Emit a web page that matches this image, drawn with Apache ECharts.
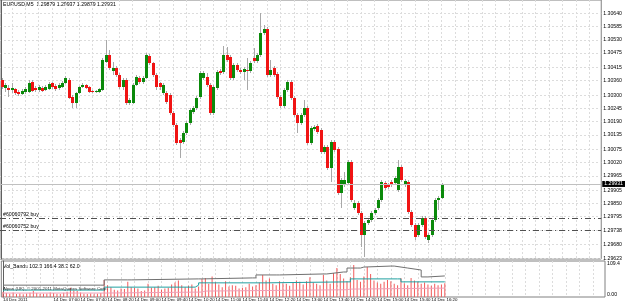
<!DOCTYPE html>
<html><head><meta charset="utf-8">
<script src="https://cdn.jsdelivr.net/npm/echarts@6/dist/echarts.min.js"></script>
<style>html,body{margin:0;padding:0;background:#fff}#c{width:625px;height:303px}</style>
</head><body><div id="c"></div>
<script>
const opens=[1.30363,1.30330,1.30330,1.30322,1.30326,1.30313,1.30305,1.30313,1.30313,1.30355,1.30330,1.30322,1.30330,1.30322,1.30326,1.30351,1.30338,1.30330,1.30334,1.30351,1.30363,1.30293,1.30268,1.30309,1.30334,1.30342,1.30334,1.30317,1.30313,1.30313,1.30322,1.30438,1.30467,1.30400,1.30413,1.30384,1.30334,1.30363,1.30268,1.30268,1.30342,1.30371,1.30355,1.30371,1.30463,1.30434,1.30384,1.30351,1.30309,1.30309,1.30301,1.30226,1.30176,1.30114,1.30106,1.30143,1.30185,1.30230,1.30247,1.30293,1.30371,1.30375,1.30342,1.30226,1.30330,1.30400,1.30396,1.30467,1.30458,1.30371,1.30425,1.30405,1.30396,1.30405,1.30400,1.30454,1.30442,1.30467,1.30558,1.30575,1.30384,1.30413,1.30388,1.30293,1.30255,1.30322,1.30355,1.30288,1.30218,1.30185,1.30218,1.30247,1.30102,1.30160,1.30172,1.30156,1.30064,1.30085,1.29998,1.30106,1.30077,1.29894,1.29927,1.29936,1.30023,1.29832,1.29853,1.29811,1.29720,1.29770,1.29782,1.29811,1.29832,1.29865,1.29936,1.29927,1.29940,1.29936,1.29907,1.30002,1.29927,1.29940,1.29815,1.29761,1.29720,1.29761,1.29790,1.29699,1.29720,1.29782,1.29865,1.29873];
const closes=[1.30334,1.30342,1.30322,1.30330,1.30309,1.30305,1.30317,1.30326,1.30351,1.30317,1.30322,1.30334,1.30317,1.30334,1.30346,1.30334,1.30326,1.30342,1.30351,1.30371,1.30288,1.30268,1.30309,1.30334,1.30342,1.30330,1.30313,1.30313,1.30317,1.30326,1.30446,1.30467,1.30413,1.30413,1.30384,1.30334,1.30363,1.30268,1.30280,1.30342,1.30375,1.30355,1.30371,1.30467,1.30434,1.30384,1.30334,1.30334,1.30342,1.30272,1.30226,1.30176,1.30102,1.30102,1.30143,1.30185,1.30239,1.30247,1.30288,1.30392,1.30392,1.30342,1.30226,1.30334,1.30396,1.30392,1.30467,1.30446,1.30371,1.30425,1.30405,1.30396,1.30409,1.30400,1.30434,1.30442,1.30467,1.30558,1.30575,1.30384,1.30405,1.30384,1.30293,1.30255,1.30322,1.30355,1.30288,1.30218,1.30185,1.30218,1.30247,1.30102,1.30164,1.30168,1.30147,1.30064,1.30085,1.29998,1.30106,1.30073,1.29894,1.29948,1.29948,1.30023,1.29865,1.29853,1.29811,1.29720,1.29770,1.29782,1.29811,1.29824,1.29865,1.29940,1.29915,1.29919,1.29927,1.29956,1.30002,1.29948,1.29944,1.29815,1.29761,1.29712,1.29761,1.29790,1.29712,1.29720,1.29782,1.29865,1.29873,1.29931];
const lows=[1.30326,1.30313,1.30293,1.30309,1.30301,1.30297,1.30301,1.30305,1.30309,1.30313,1.30313,1.30313,1.30313,1.30317,1.30322,1.30326,1.30317,1.30322,1.30330,1.30346,1.30284,1.30247,1.30247,1.30305,1.30330,1.30326,1.30309,1.30309,1.30309,1.30309,1.30317,1.30434,1.30405,1.30384,1.30375,1.30326,1.30322,1.30259,1.30259,1.30263,1.30338,1.30346,1.30346,1.30367,1.30425,1.30375,1.30322,1.30322,1.30301,1.30263,1.30218,1.30168,1.30093,1.30039,1.30097,1.30135,1.30176,1.30222,1.30239,1.30284,1.30363,1.30334,1.30218,1.30218,1.30322,1.30384,1.30388,1.30438,1.30363,1.30363,1.30396,1.30388,1.30363,1.30322,1.30392,1.30434,1.30434,1.30458,1.30550,1.30375,1.30375,1.30375,1.30284,1.30247,1.30247,1.30313,1.30280,1.30209,1.30143,1.30176,1.30209,1.30093,1.30093,1.30151,1.30139,1.30056,1.30056,1.29990,1.29940,1.30064,1.29886,1.29832,1.29919,1.29927,1.29857,1.29824,1.29803,1.29670,1.29628,1.29761,1.29774,1.29803,1.29824,1.29857,1.29907,1.29911,1.29919,1.29927,1.29898,1.29940,1.29919,1.29807,1.29753,1.29699,1.29712,1.29753,1.29703,1.29687,1.29712,1.29774,1.29824,1.29869];
const highs=[1.30371,1.30351,1.30342,1.30351,1.30330,1.30322,1.30326,1.30334,1.30363,1.30363,1.30338,1.30342,1.30338,1.30342,1.30355,1.30355,1.30346,1.30351,1.30359,1.30380,1.30371,1.30301,1.30313,1.30338,1.30351,1.30346,1.30338,1.30322,1.30322,1.30330,1.30454,1.30529,1.30488,1.30438,1.30421,1.30392,1.30371,1.30371,1.30288,1.30351,1.30384,1.30380,1.30380,1.30475,1.30471,1.30438,1.30392,1.30355,1.30351,1.30317,1.30309,1.30234,1.30185,1.30122,1.30151,1.30193,1.30247,1.30255,1.30297,1.30400,1.30400,1.30392,1.30351,1.30342,1.30405,1.30409,1.30504,1.30500,1.30467,1.30434,1.30434,1.30413,1.30417,1.30454,1.30442,1.30496,1.30475,1.30641,1.30591,1.30583,1.30446,1.30421,1.30396,1.30301,1.30330,1.30363,1.30363,1.30297,1.30226,1.30226,1.30280,1.30255,1.30172,1.30176,1.30180,1.30164,1.30093,1.30093,1.30114,1.30114,1.30085,1.29956,1.29981,1.30031,1.30031,1.29865,1.29861,1.29819,1.29778,1.29790,1.29819,1.29832,1.29873,1.29948,1.29944,1.29936,1.29948,1.29965,1.30031,1.30010,1.29952,1.29948,1.29824,1.29770,1.29770,1.29799,1.29799,1.29728,1.29790,1.29873,1.29882,1.29936];
const volumes=[15,12,10,14,9,11,8,10,13,18,12,9,10,11,14,12,10,9,13,16,28,20,18,14,10,9,11,8,10,12,52,36,30,22,20,26,24,46,30,28,26,18,20,40,28,30,34,22,26,28,38,44,50,36,30,34,38,26,32,55,58,40,62,45,38,30,48,32,36,34,26,28,30,40,32,36,44,67,50,56,40,36,48,42,40,34,44,50,46,38,48,60,44,40,36,67,50,40,73,88,70,56,48,60,97,52,46,62,91,70,50,44,40,46,52,48,40,36,58,42,36,58,50,46,40,44,38,34,40,36,38,42];
const volUpper=[[0,36],[29,36],[30,52],[37,52],[38,55],[58,55],[59,58],[74,58],[75,67],[81,67],[82,70],[95,70],[96,76],[101,76],[102,88],[105,88],[106,91],[107,94],[115,94],[116,88],[120,82],[124,61],[126,64],[131,64]];
const volMid=[[0,21],[29,21],[30,30],[57,36],[58,43],[77,43],[78,46],[102,46],[103,55],[117,55],[118,46],[131,46]];
const volLower=[[0,12],[29,12],[30,15],[59,18],[60,22],[102,24],[103,27],[131,27]];
const timeLabels=["14 Dec 2011","14 Dec 06:20","14 Dec 07:00","14 Dec 07:40","14 Dec 08:20","14 Dec 09:00","14 Dec 09:40","14 Dec 10:20","14 Dec 11:00","14 Dec 11:40","14 Dec 12:20","14 Dec 13:00","14 Dec 13:40","14 Dec 14:20","14 Dec 15:00","14 Dec 15:40","14 Dec 16:20"];
const priceTicks=[1.30640,1.30585,1.30530,1.30475,1.30415,1.30360,1.30300,1.30245,1.30190,1.30135,1.30075,1.30020,1.29965,1.29905,1.29850,1.29795,1.29738,1.29680,1.29623];
const volTopTick=[109.4];
const volBottomTick=[0];
const orderLevels=[1.29789,1.29739];
const orderNames=["#60060792 buy","#60060752 buy"];
const bidPrice=1.29931;
const chartTitle="EURUSD,M5  1.29879 1.29937 1.29879 1.29931";
const indicatorTitle="Vol_Bands 102.3 166.4 38.3 62.0";
const footerText="Alpari (UK), \u00a9 2001-2011 MetaQuotes Software Corp.";

const SLOTS=179;
const FONT='Liberation Sans';
const FS=5.2;
const FSX=4.4;
const gridLineX=[];for(let i=3;i<SLOTS;i+=4)gridLineX.push(i);
const labelX=[0];for(let i=7;i<=127;i+=8)labelX.push(i);

const chart=echarts.init(document.getElementById('c'),null,{renderer:'canvas'});
const candleData=opens.map((o,i)=>[i,o,closes[i],lows[i],highs[i]]);
const dotted={color:'#dcdcdc',type:[2,2],width:1};
const volAxisBase={type:'value',gridIndex:1,position:'right',min:0,max:109.4,splitLine:{show:false}};
chart.setOption({
  animation:false,
  backgroundColor:'#fff',
  grid:[
    {left:0,top:0,width:605,height:259,show:true,borderColor:'#808080',borderWidth:1,backgroundColor:'transparent'},
    {left:0,top:261,width:605,height:36,show:true,borderColor:'#808080',borderWidth:1,backgroundColor:'transparent'}
  ],
  xAxis:[
    {type:'value',gridIndex:0,min:-0.5,max:SLOTS-0.5,axisLine:{show:false},axisLabel:{show:false},
     axisTick:{show:false,customValues:gridLineX},splitLine:{show:true,lineStyle:dotted}},
    {type:'value',gridIndex:1,min:-0.5,max:SLOTS-0.5,axisLine:{show:false},
     axisTick:{show:false,customValues:gridLineX},splitLine:{show:true,lineStyle:dotted},
     axisLabel:{show:true,customValues:labelX,showMinLabel:true,hideOverlap:false,align:'left',margin:1,fontSize:FSX,fontFamily:FONT,color:'#000',
       formatter:v=>{const k=labelX.indexOf(Math.round(v));return k>=0?timeLabels[k]:'';}}}
  ],
  yAxis:[
    {type:'value',gridIndex:0,position:'right',min:1.296193,max:1.306952,
     axisLine:{show:true,lineStyle:{color:'#606060',width:1}},
     axisTick:{show:false,customValues:priceTicks},
     axisLabel:{show:true,customValues:priceTicks,fontSize:FS,fontFamily:FONT,color:'#000',margin:2,formatter:v=>v.toFixed(5)},
     splitLine:{show:true,lineStyle:dotted}},
    Object.assign({},volAxisBase,{
     axisLine:{show:true,lineStyle:{color:'#606060',width:1}},
     axisTick:{show:false,customValues:volTopTick},
     axisLabel:{show:true,customValues:volTopTick,verticalAlign:'top',fontSize:FS,fontFamily:FONT,color:'#000',margin:2,formatter:v=>v.toFixed(1)}}),
    Object.assign({},volAxisBase,{
     axisLine:{show:false},
     axisTick:{show:false,customValues:volBottomTick},
     axisLabel:{show:true,customValues:volBottomTick,verticalAlign:'bottom',fontSize:FS,fontFamily:FONT,color:'#000',margin:2,formatter:v=>v.toFixed(2)}})
  ],
  graphic:[
    {type:'text',left:3,top:2,style:{text:chartTitle,font:`${FS}px ${FONT}`,fill:'#000'}},
    {type:'text',left:3,top:264,style:{text:indicatorTitle,font:`${FS}px ${FONT}`,fill:'#000'}},
    {type:'text',left:3,top:287,z:100,style:{text:footerText,font:`${FSX}px ${FONT}`,fill:'#303030'}}
  ],
  series:[
    {type:'custom',xAxisIndex:0,yAxisIndex:0,data:candleData,encode:{x:0,y:[1,2,3,4]},clip:true,
     renderItem:(p,api)=>{
       const i=api.value(0),o=api.value(1),c=api.value(2),l=api.value(3),h=api.value(4);
       const pO=api.coord([i,o]),pC=api.coord([i,c]),pL=api.coord([i,l]),pH=api.coord([i,h]);
       const x=Math.round(pO[0]);
       const up=c>=o;
       const top=Math.round(Math.min(pO[1],pC[1])),bot=Math.round(Math.max(pO[1],pC[1]));
       return {type:'group',children:[
         {type:'line',shape:{x1:x+0.5,y1:Math.round(pH[1]),x2:x+0.5,y2:Math.round(pL[1])},style:{stroke:'#a8a8a8',lineWidth:1}},
         {type:'rect',shape:{x:x-1,y:top,width:3,height:Math.max(1,bot-top)},style:{fill:up?'#0b8a0b':'#f01414'}}
       ]};
     },
     markLine:{silent:true,symbol:'none',animation:false,precision:6,data:[
       {yAxis:bidPrice,lineStyle:{color:'#c0c0c0',type:'solid',width:1},
        label:{show:true,position:'end',distance:1,formatter:()=>bidPrice.toFixed(5),backgroundColor:'#000',color:'#fff',padding:[1,2,0,2],fontSize:FS,fontFamily:FONT}},
       ...orderLevels.map((v,k)=>({yAxis:v,lineStyle:{color:'#505050',type:[6,3,1,3],width:1},
        label:{show:true,position:'insideStartTop',distance:[3,1],formatter:()=>orderNames[k],color:'#000',fontSize:FS,fontFamily:FONT}}))
     ]}
    },
    {type:'bar',xAxisIndex:1,yAxisIndex:1,data:volumes.map((v,i)=>[i,v]),barWidth:1,itemStyle:{color:'#f25a5a'},large:false},
    {type:'line',xAxisIndex:1,yAxisIndex:1,data:volUpper,step:'end',symbol:'none',lineStyle:{color:'#707070',width:1}},
    {type:'line',xAxisIndex:1,yAxisIndex:1,data:volMid,step:'end',symbol:'none',lineStyle:{color:'#20a0a0',width:1}},
    {type:'line',xAxisIndex:1,yAxisIndex:1,data:volLower,step:'end',symbol:'none',lineStyle:{color:'#f0a0b8',width:1}}
  ]
});
</script></body></html>
